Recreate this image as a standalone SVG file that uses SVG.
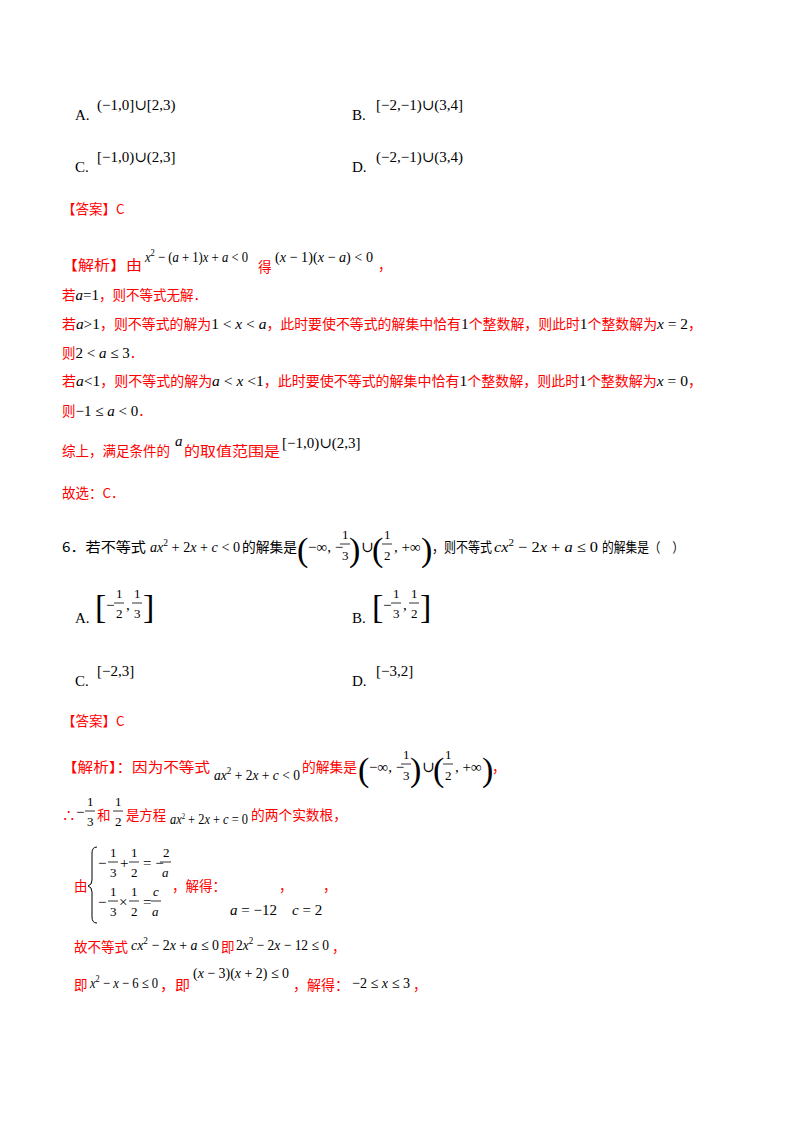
<svg xmlns="http://www.w3.org/2000/svg" width="800" height="1132" viewBox="0 0 800 1132">
<style>
.c{font-family:"Noto Sans CJK SC",sans-serif;font-size:13.5px}
.r{fill:#ff0000}
.k{fill:#000}
.m{font-family:"Liberation Serif","DejaVu Serif",serif;font-size:15px;fill:#000}
.i{font-style:italic}
.s{font-size:10px}
.f{font-family:"Liberation Serif","DejaVu Serif",serif;font-size:13px;fill:#000}
.p{font-family:"Liberation Serif","DejaVu Serif",serif;font-size:34px;fill:#000}
.l{stroke:#000;stroke-width:0.8}
</style>
<rect width="800" height="1132" fill="#fff"/>
<g id="opts5">
<text x="75" y="120" class="m">A.</text><text x="97" y="110" class="m">(−1,0]∪[2,3)</text>
<text x="352" y="120" class="m">B.</text><text x="376" y="110" class="m">[−2,−1)∪(3,4]</text>
<text x="75" y="172" class="m">C.</text><text x="97" y="162" class="m">[−1,0)∪(2,3]</text>
<text x="352" y="172" class="m">D.</text><text x="376" y="162" class="m">(−2,−1)∪(3,4)</text>
</g>
<g id="sol5">
<text x="62" y="214" class="c r">【答案】C</text>
<text x="62" y="270" class="c r" textLength="80" lengthAdjust="spacingAndGlyphs">【解析】由</text>
<text x="145" y="262" class="m" textLength="103" lengthAdjust="spacingAndGlyphs"><tspan class="i">x</tspan><tspan class="s" dy="-6">2</tspan><tspan dy="6"> − (</tspan><tspan class="i">a</tspan> + 1)<tspan class="i">x</tspan> + <tspan class="i">a</tspan> &lt; 0</text>
<text x="258" y="272" class="c r">得</text>
<text x="275" y="262" class="m" textLength="98" lengthAdjust="spacingAndGlyphs">(<tspan class="i">x</tspan> − 1)(<tspan class="i">x</tspan> − <tspan class="i">a</tspan>) &lt; 0</text>
<text x="378" y="270" class="c r">，</text>
<text x="62" y="300" class="c r">若<tspan class="m i">a</tspan><tspan class="m">=1</tspan>，则不等式无解．</text>
<text x="62" y="329" class="c r" textLength="640" lengthAdjust="spacingAndGlyphs">若<tspan class="m i" font-size="11">a</tspan><tspan class="m" font-size="11">&gt;1</tspan>，则不等式的解为<tspan class="m">1 &lt; <tspan class="i">x</tspan> &lt; <tspan class="i">a</tspan></tspan>，此时要使不等式的解集中恰有<tspan class="m">1</tspan>个整数解，则此时<tspan class="m">1</tspan>个整数解为<tspan class="m i" font-size="11">x</tspan><tspan class="m" font-size="11"> = 2</tspan>，</text>
<text x="62" y="358" class="c r">则<tspan class="m">2 &lt; <tspan class="i">a</tspan> ≤ 3</tspan>．</text>
<text x="62" y="386" class="c r" textLength="640" lengthAdjust="spacingAndGlyphs">若<tspan class="m i">a</tspan><tspan class="m">&lt;1</tspan>，则不等式的解为<tspan class="m"><tspan class="i">a</tspan> &lt; <tspan class="i">x</tspan> &lt;1</tspan>，此时要使不等式的解集中恰有<tspan class="m">1</tspan>个整数解，则此时<tspan class="m">1</tspan>个整数解为<tspan class="m"><tspan class="i">x</tspan> = 0</tspan>，</text>
<text x="62" y="416" class="c r">则<tspan class="m">−1 ≤ <tspan class="i">a</tspan> &lt; 0</tspan>．</text>
<text x="62" y="456" class="c r" textLength="108" lengthAdjust="spacingAndGlyphs">综上，满足条件的</text>
<text x="175" y="446" class="m i">a</text>
<text x="184" y="456" class="c r" textLength="96" lengthAdjust="spacingAndGlyphs">的取值范围是</text>
<text x="282" y="448" class="m">[−1,0)∪(2,3]</text>
<text x="62" y="498" class="c r">故选：C．</text>
</g>
<g id="q6">
<text x="62" y="552" class="c k" textLength="84" lengthAdjust="spacingAndGlyphs">6．若不等式</text>
<text x="150" y="552" class="m" textLength="90" lengthAdjust="spacingAndGlyphs"><tspan class="i">ax</tspan><tspan class="s" dy="-6">2</tspan><tspan dy="6"> + 2</tspan><tspan class="i">x</tspan> + <tspan class="i">c</tspan> &lt; 0</text>
<text x="242" y="552" class="c k" textLength="55" lengthAdjust="spacingAndGlyphs">的解集是</text>
<text x="297" y="561" class="p">(</text>
<text x="308" y="552" class="m">−∞, −</text>
<text x="342" y="539" class="f">1</text><line x1="340" y1="544" x2="350" y2="544" class="l"/><text x="342" y="560" class="f">3</text>
<text x="349" y="561" class="p">)</text>
<text x="361" y="552" class="m">∪</text>
<text x="372" y="561" class="p">(</text>
<text x="384" y="539" class="f">1</text><line x1="382" y1="544" x2="392" y2="544" class="l"/><text x="384" y="560" class="f">2</text>
<text x="394" y="552" class="m">, +∞</text>
<text x="421" y="561" class="p">)</text>
<text x="432" y="552" class="c k" textLength="60" lengthAdjust="spacingAndGlyphs">，则不等式</text>
<text x="494" y="552" class="m" textLength="104" lengthAdjust="spacingAndGlyphs"><tspan class="i">cx</tspan><tspan class="s" dy="-6">2</tspan><tspan dy="6"> − 2</tspan><tspan class="i">x</tspan> + <tspan class="i">a</tspan> ≤ 0</text>
<text x="602" y="552" class="c k" textLength="82" lengthAdjust="spacingAndGlyphs">的解集是（　）</text>
</g>
<g id="opts6">
<text x="75" y="623" class="m">A.</text>
<text x="95" y="618" class="p">[</text><text x="106" y="610" class="m">−</text>
<text x="116" y="598" class="f">1</text><line x1="114" y1="603" x2="124" y2="603" class="l"/><text x="116" y="618" class="f">2</text>
<text x="126" y="610" class="m">,</text>
<text x="134" y="598" class="f">1</text><line x1="132" y1="603" x2="142" y2="603" class="l"/><text x="134" y="618" class="f">3</text>
<text x="143" y="618" class="p">]</text>
<text x="352" y="623" class="m">B.</text>
<text x="372" y="618" class="p">[</text><text x="383" y="610" class="m">−</text>
<text x="393" y="598" class="f">1</text><line x1="391" y1="603" x2="401" y2="603" class="l"/><text x="393" y="618" class="f">3</text>
<text x="403" y="610" class="m">,</text>
<text x="411" y="598" class="f">1</text><line x1="409" y1="603" x2="419" y2="603" class="l"/><text x="411" y="618" class="f">2</text>
<text x="420" y="618" class="p">]</text>
<text x="75" y="686" class="m">C.</text><text x="97" y="676" class="m">[−2,3]</text>
<text x="352" y="686" class="m">D.</text><text x="376" y="676" class="m">[−3,2]</text>
</g>
<g id="sol6">
<text x="62" y="726" class="c r">【答案】C</text>
<text x="62" y="772" class="c r" textLength="148" lengthAdjust="spacingAndGlyphs">【解析】：因为不等式</text>
<text x="214" y="780" class="m" textLength="86" lengthAdjust="spacingAndGlyphs"><tspan class="i">ax</tspan><tspan class="s" dy="-6">2</tspan><tspan dy="6"> + 2</tspan><tspan class="i">x</tspan> + <tspan class="i">c</tspan> &lt; 0</text>
<text x="302" y="772" class="c r" textLength="55" lengthAdjust="spacingAndGlyphs">的解集是</text>
<text x="358" y="781" class="p">(</text>
<text x="369" y="772" class="m">−∞, −</text>
<text x="403" y="759" class="f">1</text><line x1="401" y1="764" x2="411" y2="764" class="l"/><text x="403" y="780" class="f">3</text>
<text x="410" y="781" class="p">)</text>
<text x="422" y="772" class="m">∪</text>
<text x="433" y="781" class="p">(</text>
<text x="445" y="759" class="f">1</text><line x1="443" y1="764" x2="453" y2="764" class="l"/><text x="445" y="780" class="f">2</text>
<text x="455" y="772" class="m">, +∞</text>
<text x="482" y="781" class="p">)</text>
<text x="492" y="772" class="c r">，</text>
<text x="62" y="820" class="c r">∴</text>
<text x="76" y="817" class="m">−</text>
<text x="87" y="806" class="f">1</text><line x1="85" y1="811" x2="95" y2="811" class="l"/><text x="87" y="826" class="f">3</text>
<text x="97" y="820" class="c r">和</text>
<text x="115" y="806" class="f">1</text><line x1="113" y1="811" x2="123" y2="811" class="l"/><text x="115" y="826" class="f">2</text>
<text x="126" y="820" class="c r" textLength="40" lengthAdjust="spacingAndGlyphs">是方程</text>
<text x="170" y="824" class="m" font-size="12" textLength="78" lengthAdjust="spacingAndGlyphs"><tspan class="i">ax</tspan><tspan font-size="8" dy="-5">2</tspan><tspan dy="5"> + 2</tspan><tspan class="i">x</tspan> + <tspan class="i">c</tspan> = 0</text>
<text x="251" y="820" class="c r" textLength="96" lengthAdjust="spacingAndGlyphs">的两个实数根，</text>
<text x="74" y="891" class="c r">由</text>
<path d="M97,847 Q92,847 92,853 L92,880 Q92,885 88,886 Q92,887 92,892 L92,917 Q92,923 97,923" fill="none" stroke="#000" stroke-width="1"/>
<text x="98" y="868" class="m">−</text>
<text x="110" y="857" class="f">1</text><line x1="108" y1="862" x2="118" y2="862" class="l"/><text x="110" y="877" class="f">3</text>
<text x="120" y="868" class="m">+</text>
<text x="131" y="857" class="f">1</text><line x1="129" y1="862" x2="139" y2="862" class="l"/><text x="131" y="877" class="f">2</text>
<text x="143" y="868" class="m">= −</text>
<text x="163" y="857" class="f">2</text><line x1="160" y1="862" x2="171" y2="862" class="l"/><text x="162" y="877" class="f i">a</text>
<text x="98" y="907" class="m">−</text>
<text x="110" y="896" class="f">1</text><line x1="108" y1="901" x2="118" y2="901" class="l"/><text x="110" y="916" class="f">3</text>
<text x="119" y="907" class="m">×</text>
<text x="131" y="896" class="f">1</text><line x1="129" y1="901" x2="139" y2="901" class="l"/><text x="131" y="916" class="f">2</text>
<text x="143" y="907" class="m">=</text>
<text x="153" y="896" class="f i">c</text><line x1="151" y1="901" x2="161" y2="901" class="l"/><text x="152" y="916" class="f i">a</text>
<text x="172" y="891" class="c r">，解得：</text>
<text x="279" y="891" class="c r">，</text>
<text x="323" y="891" class="c r">，</text>
<text x="230" y="915" class="m"><tspan class="i">a</tspan> = −12</text>
<text x="292" y="915" class="m"><tspan class="i">c</tspan> = 2</text>
<text x="74" y="952" class="c r" textLength="54" lengthAdjust="spacingAndGlyphs">故不等式</text>
<text x="131" y="950" class="m" textLength="88" lengthAdjust="spacingAndGlyphs"><tspan class="i">cx</tspan><tspan class="s" dy="-6">2</tspan><tspan dy="6"> − 2</tspan><tspan class="i">x</tspan> + <tspan class="i">a</tspan> ≤ 0</text>
<text x="221" y="952" class="c r">即</text>
<text x="236" y="950" class="m" textLength="93" lengthAdjust="spacingAndGlyphs">2<tspan class="i">x</tspan><tspan class="s" dy="-6">2</tspan><tspan dy="6"> − 2</tspan><tspan class="i">x</tspan> − 12 ≤ 0</text>
<text x="332" y="952" class="c r">，</text>
<text x="74" y="990" class="c r">即</text>
<text x="90" y="988" class="m" textLength="68" lengthAdjust="spacingAndGlyphs"><tspan class="i">x</tspan><tspan class="s" dy="-6">2</tspan><tspan dy="6"> − </tspan><tspan class="i">x</tspan> − 6 ≤ 0</text>
<text x="160" y="990" class="c r" textLength="30" lengthAdjust="spacingAndGlyphs">，即</text>
<text x="193" y="978" class="m" textLength="96" lengthAdjust="spacingAndGlyphs">(<tspan class="i">x</tspan> − 3)(<tspan class="i">x</tspan> + 2) ≤ 0</text>
<text x="293" y="990" class="c r" textLength="56" lengthAdjust="spacingAndGlyphs">，解得：</text>
<text x="352" y="988" class="m" textLength="58" lengthAdjust="spacingAndGlyphs">−2 ≤ <tspan class="i">x</tspan> ≤ 3</text>
<text x="413" y="990" class="c r">，</text>
</g>
</svg>
